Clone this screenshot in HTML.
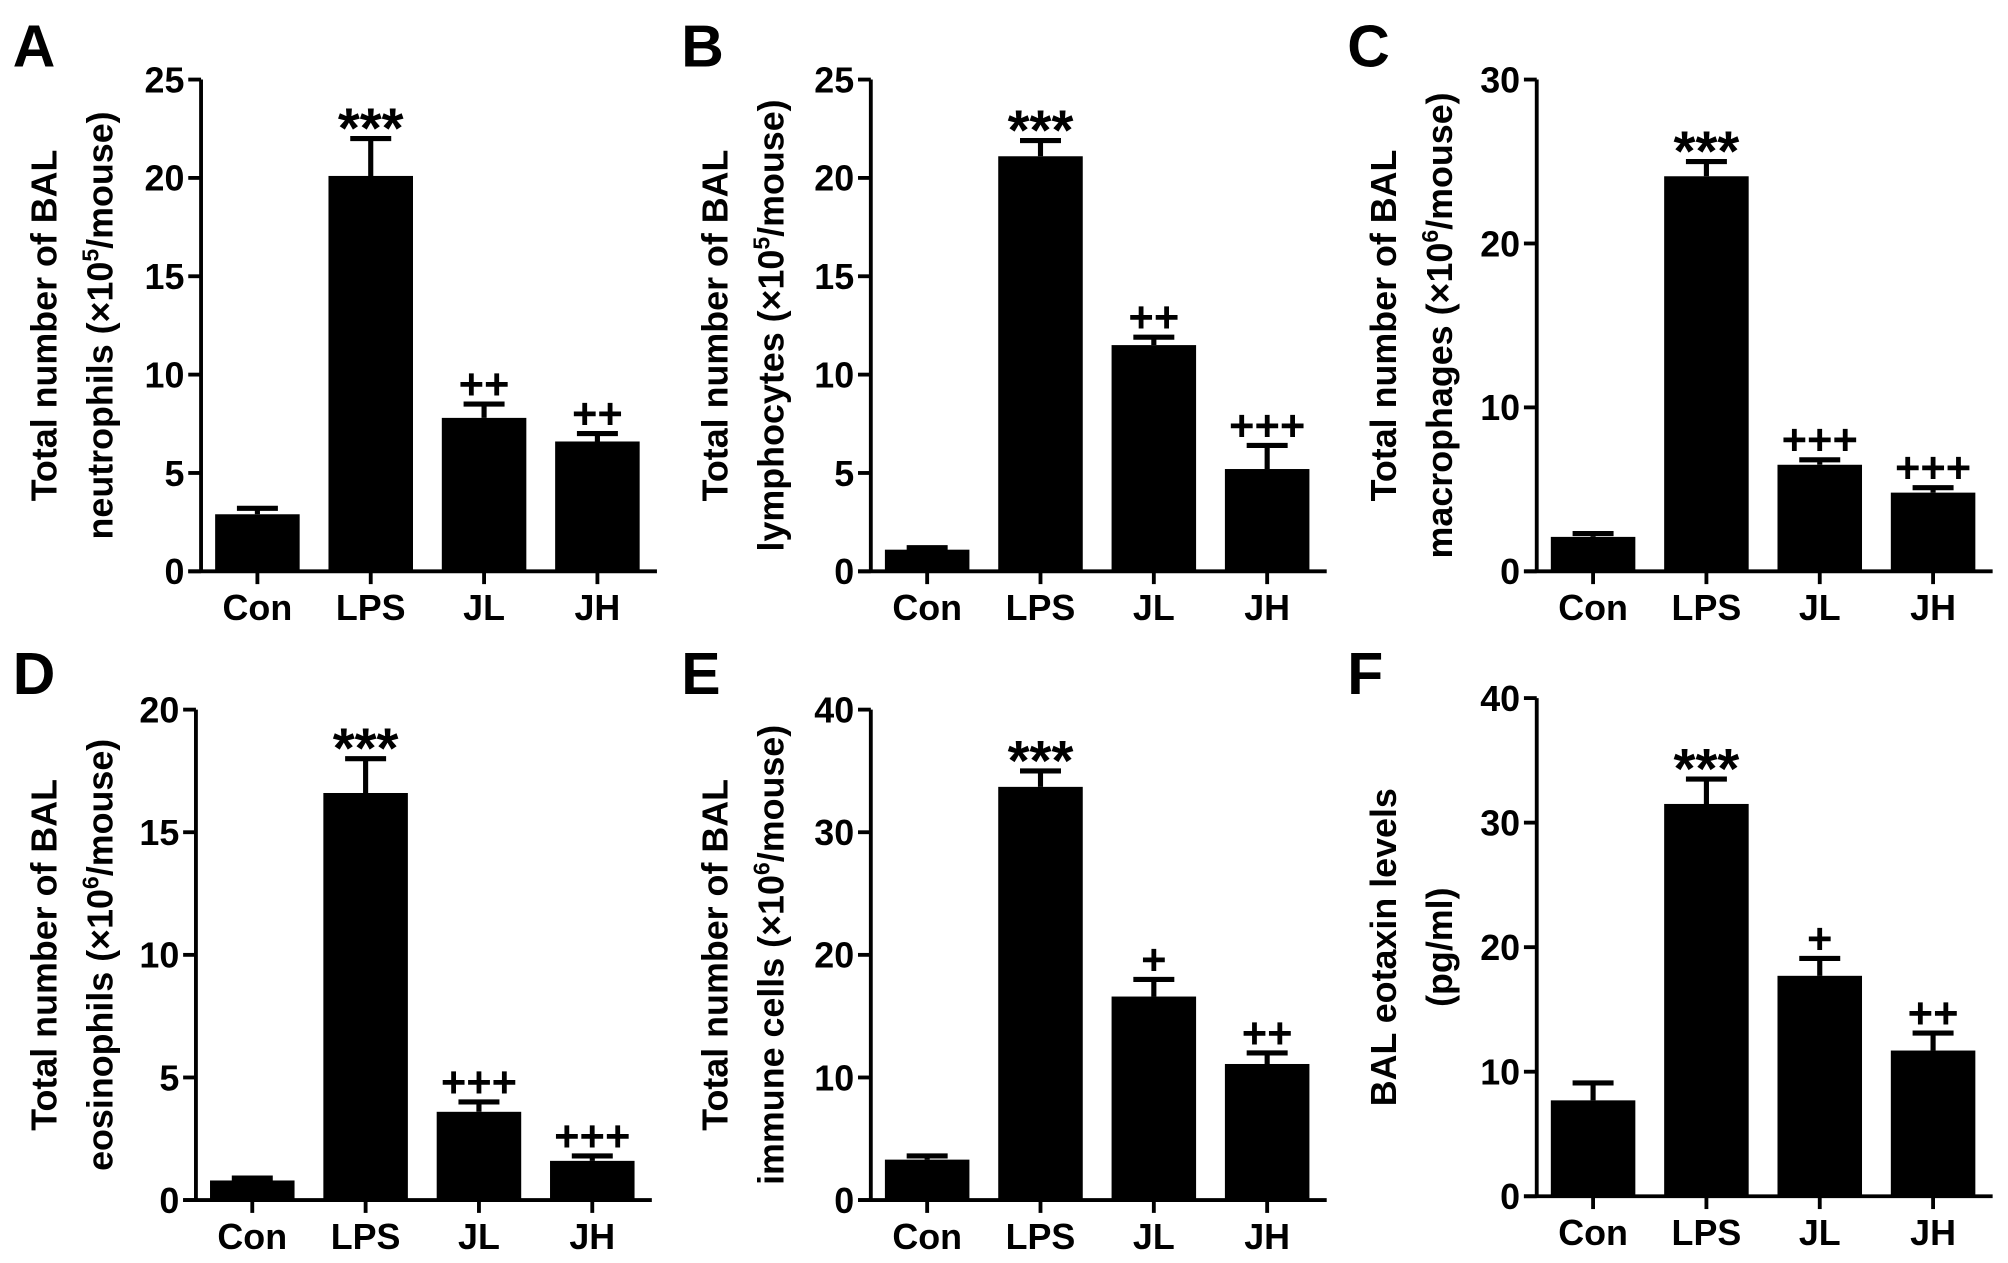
<!DOCTYPE html>
<html><head><meta charset="utf-8"><style>
html,body{margin:0;padding:0;background:#fff;}
svg{display:block;}
text{font-family:"Liberation Sans",Arial,sans-serif;font-weight:bold;fill:#000;}
</style></head><body>
<svg id="fig" width="2008" height="1263" viewBox="0 0 1568 986" xmlns="http://www.w3.org/2000/svg"></svg>
<script>
const categories = ["Con","LPS","JL","JH"];
const valuesA = [2.9,20.1,7.8,6.6];
const errorsA = [0.3,1.9,0.7,0.4];
const sigA = ["","***","++","++"];
const valuesB = [1.1,21.1,11.5,5.2];
const errorsB = [0.1,0.8,0.4,1.2];
const sigB = ["","***","++","+++"];
const valuesC = [2.1,24.1,6.5,4.8];
const errorsC = [0.2,0.9,0.3,0.3];
const sigC = ["","***","+++","+++"];
const valuesD = [0.8,16.6,3.6,1.6];
const errorsD = [0.1,1.4,0.4,0.2];
const sigD = ["","***","+++","+++"];
const valuesE = [3.3,33.7,16.6,11.1];
const errorsE = [0.3,1.3,1.4,0.9];
const sigE = ["","***","+","++"];
const valuesF = [7.7,31.5,17.7,11.7];
const errorsF = [1.4,2.0,1.4,1.4];
const sigF = ["","***","+","++"];
const ticksA = [0,5,10,15,20,25];
const ticksB = [0,5,10,15,20,25];
const ticksC = [0,10,20,30];
const ticksD = [0,5,10,15,20];
const ticksE = [0,10,20,30,40];
const ticksF = [0,10,20,30,40];

const NS="http://www.w3.org/2000/svg";
const svg=document.getElementById('fig');
function mk(tag,attrs,parent){const e=document.createElementNS(NS,tag);for(const k in attrs)e.setAttribute(k,attrs[k]);(parent||svg).appendChild(e);return e;}

const panels=[
 {id:'a',letter:'A',lx:10,ly:52,ax:157,y0:446,yt:62,max:25,vals:valuesA,errs:errorsA,sig:sigA,ticks:ticksA,t1:44,t2:88,l1:'Total number of BAL',sup:'5',w2:'neutrophils (×10',w3:'/mouse)'},
 {id:'b',letter:'B',lx:532,ly:52,ax:680,y0:446,yt:62,max:25,vals:valuesB,errs:errorsB,sig:sigB,ticks:ticksB,t1:568,t2:612,l1:'Total number of BAL',w2:'lymphocytes (×10',sup:'5',w3:'/mouse)'},
 {id:'c',letter:'C',lx:1052,ly:52,ax:1200,y0:446,yt:62,max:30,vals:valuesC,errs:errorsC,sig:sigC,ticks:ticksC,t1:1090,t2:1134,l1:'Total number of BAL',w2:'macrophages (×10',sup:'6',w3:'/mouse)'},
 {id:'d',letter:'D',lx:10,ly:542,ax:153,y0:937,yt:554,max:20,vals:valuesD,errs:errorsD,sig:sigD,ticks:ticksD,t1:44,t2:88,l1:'Total number of BAL',w2:'eosinophils (×10',sup:'6',w3:'/mouse)'},
 {id:'e',letter:'E',lx:532,ly:542,ax:680,y0:937,yt:554,max:40,vals:valuesE,errs:errorsE,sig:sigE,ticks:ticksE,t1:568,t2:612,l1:'Total number of BAL',w2:'immune cells (×10',sup:'6',w3:'/mouse)'},
 {id:'f',letter:'F',lx:1052,ly:542,ax:1200,y0:934,yt:545,max:40,vals:valuesF,errs:errorsF,sig:sigF,ticks:ticksF,t1:1090,t2:1134,l1:'BAL eotaxin levels',w2:'(pg/ml)',sup:'',w3:''}
];

panels.forEach(p=>{
 const g=mk('g',{});
 
 
 const L=mk('text',{x:p.lx,y:p.ly,'font-size':46},g);L.textContent=p.letter;
 
 
 const y=v=>p.y0-(v/p.max)*(p.y0-p.yt);
 const x=i=>p.ax+44+i*88.5;
 const ya=mk('line',{x1:p.ax,y1:p.yt,x2:p.ax,y2:p.y0,stroke:'#000','stroke-width':3},g);
 
 
 const xa=mk('line',{x1:p.ax-10,y1:p.y0,x2:p.ax+356,y2:p.y0,stroke:'#000','stroke-width':3},g);
 
 
 p.ticks.forEach(t=>{
  mk('line',{x1:p.ax-10,y1:y(t),x2:p.ax,y2:y(t),stroke:'#000','stroke-width':3},g);
  const tl=mk('text',{x:p.ax-13,y:y(t)+10,'font-size':28,'text-anchor':'end'},g);tl.textContent=t;
  
  
 });
 categories.forEach((c,i)=>{
  mk('line',{x1:x(i),y1:p.y0,x2:x(i),y2:p.y0+10,stroke:'#000','stroke-width':3},g);
  const cl=mk('text',{x:x(i),y:p.y0+38,'font-size':28,'text-anchor':'middle'},g);cl.textContent=c;
  
  
  const v=p.vals[i],e=p.errs[i];
  const eb=mk('path',{d:`M${x(i)},${y(v)} V${y(v+e)} M${x(i)-16},${y(v+e)} H${x(i)+16}`,stroke:'#000','stroke-width':4,fill:'none'},g);
  
  
  const b=mk('rect',{x:x(i)-33,y:y(v),width:66,height:p.y0-y(v),fill:'#000'},g);
  
  
  if(p.sig[i]){
   const star=p.sig[i][0]==='*';
   const s=mk('text',{x:x(i),y:y(v+e)-4+(star?11:0),'font-size':star?44:34,'text-anchor':'middle'},g);s.textContent=p.sig[i];
   
   
  }
 });
 const cy=(p.y0+p.yt)/2;
 const t1=mk('text',{x:p.t1,y:cy,'font-size':28,'text-anchor':'middle',transform:`rotate(-90 ${p.t1} ${cy})`},g);t1.textContent=p.l1;
 
 
 const t2=mk('text',{x:p.t2,y:cy,'font-size':28,'text-anchor':'middle',transform:`rotate(-90 ${p.t2} ${cy})`},g);
 
 
 t2.appendChild(document.createTextNode(p.w2));
 if(p.sup){const ts=mk('tspan',{'font-size':18,dy:-11},t2);ts.textContent=p.sup;const t3=mk('tspan',{dy:11},t2);t3.textContent=p.w3;}
});
</script>
</body></html>
